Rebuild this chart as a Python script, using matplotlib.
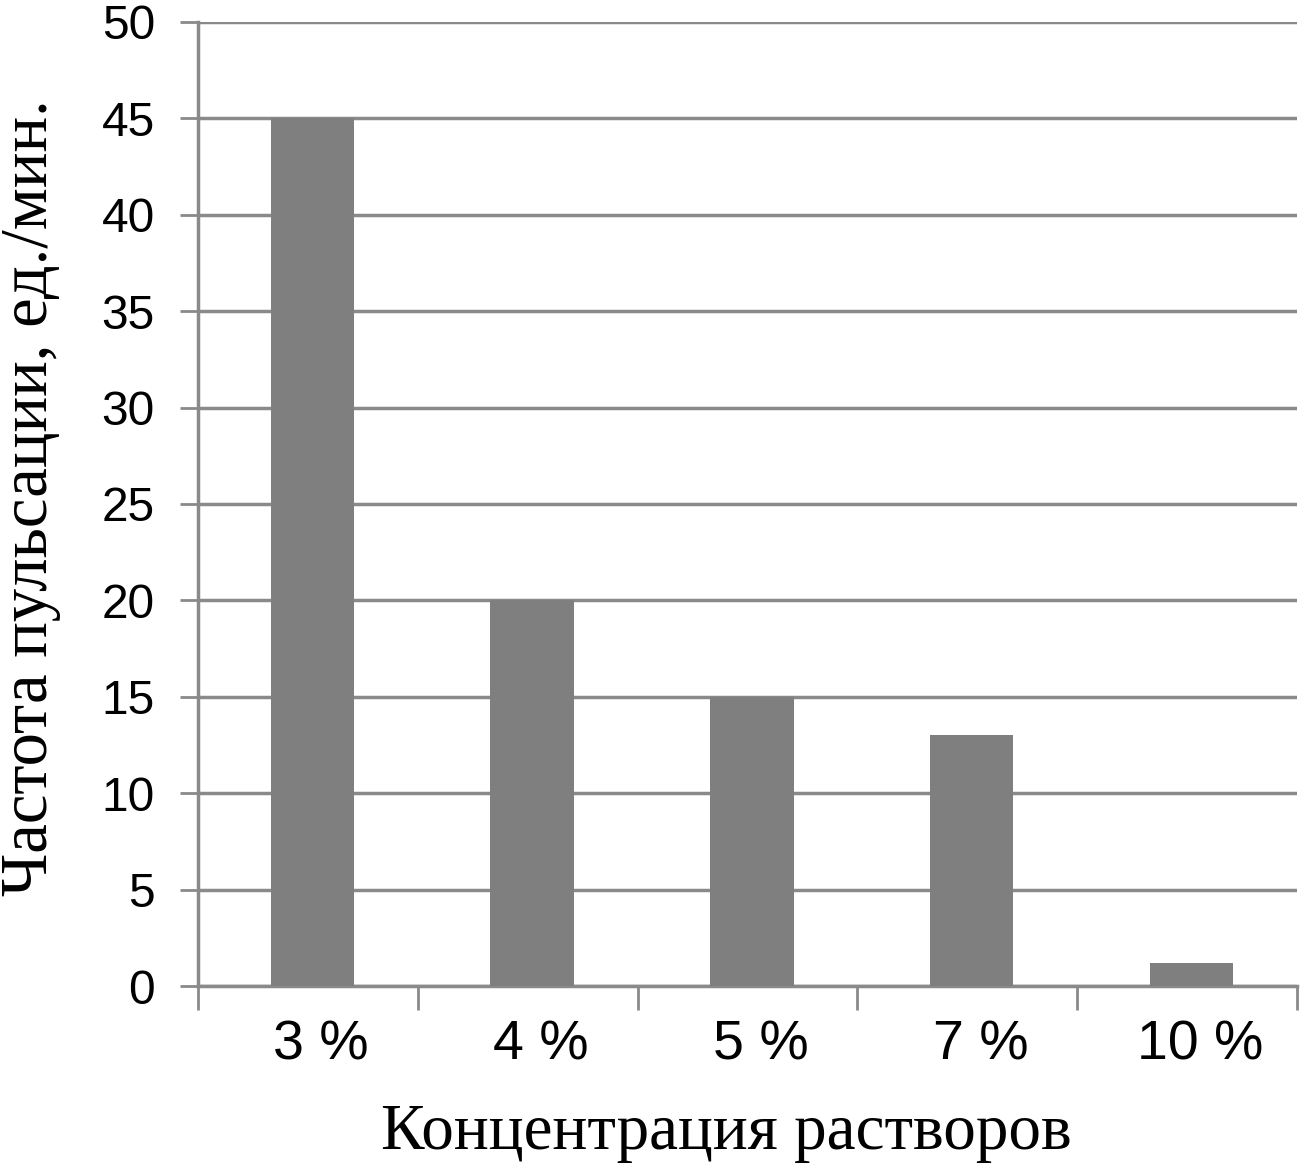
import matplotlib.pyplot as plt
import numpy as np

# данные
categories = ["3 %", "4 %", "5 %", "7 %", "10 %"]
values = [45, 20, 15, 13, 1.2]
yticks = [0, 5, 10, 15, 20, 25, 30, 35, 40, 45, 50]

grey = '#7f7f7f'
line_grey = '#8a8a8a'

fig = plt.figure(figsize=(13, 11.68), dpi=100)
ax = fig.add_axes([0.1523, 0.1558, 0.8454, 0.8254])

x = np.arange(len(categories))
ax.bar(x + 0.02, values, width=0.38, color=grey, zorder=3)

ax.set_xlim(-0.5, len(categories) - 0.5)
ax.set_ylim(0, 50)

ax.set_yticks(yticks)
ax.set_yticklabels([str(v) for v in yticks], family='Liberation Sans', fontsize=34.5)
ax.tick_params(axis='y', length=13, width=2, color=line_grey, pad=18)

# границы категорий - деления, подписи - по центрам
ax.set_xticks(np.arange(-0.5, len(categories), 1.0))
ax.set_xticklabels([])
ax.tick_params(axis='x', which='major', length=17, width=2, color=line_grey)
ax.set_xticks(x + 0.06, minor=True)
ax.set_xticklabels(categories, minor=True, family='Liberation Sans', fontsize=40)
ax.tick_params(axis='x', which='minor', length=0, pad=24)

ax.grid(axis='y', color=line_grey, linewidth=2.5, zorder=0)
ax.set_axisbelow(True)
for s in ['top', 'right']:
    ax.spines[s].set_visible(False)
for s in ['left', 'bottom']:
    ax.spines[s].set_color(line_grey)
    ax.spines[s].set_linewidth(2.5)

fig.text(0.0, 0.574, "Частота пульсации, ед./мин.", rotation=90,
         ha='left', va='center', family='Liberation Serif', fontsize=48)
fig.text(0.5585, 0.016, "Концентрация растворов",
         ha='center', va='baseline', family='Liberation Serif', fontsize=47)

fig.savefig('out.png', dpi=100)
